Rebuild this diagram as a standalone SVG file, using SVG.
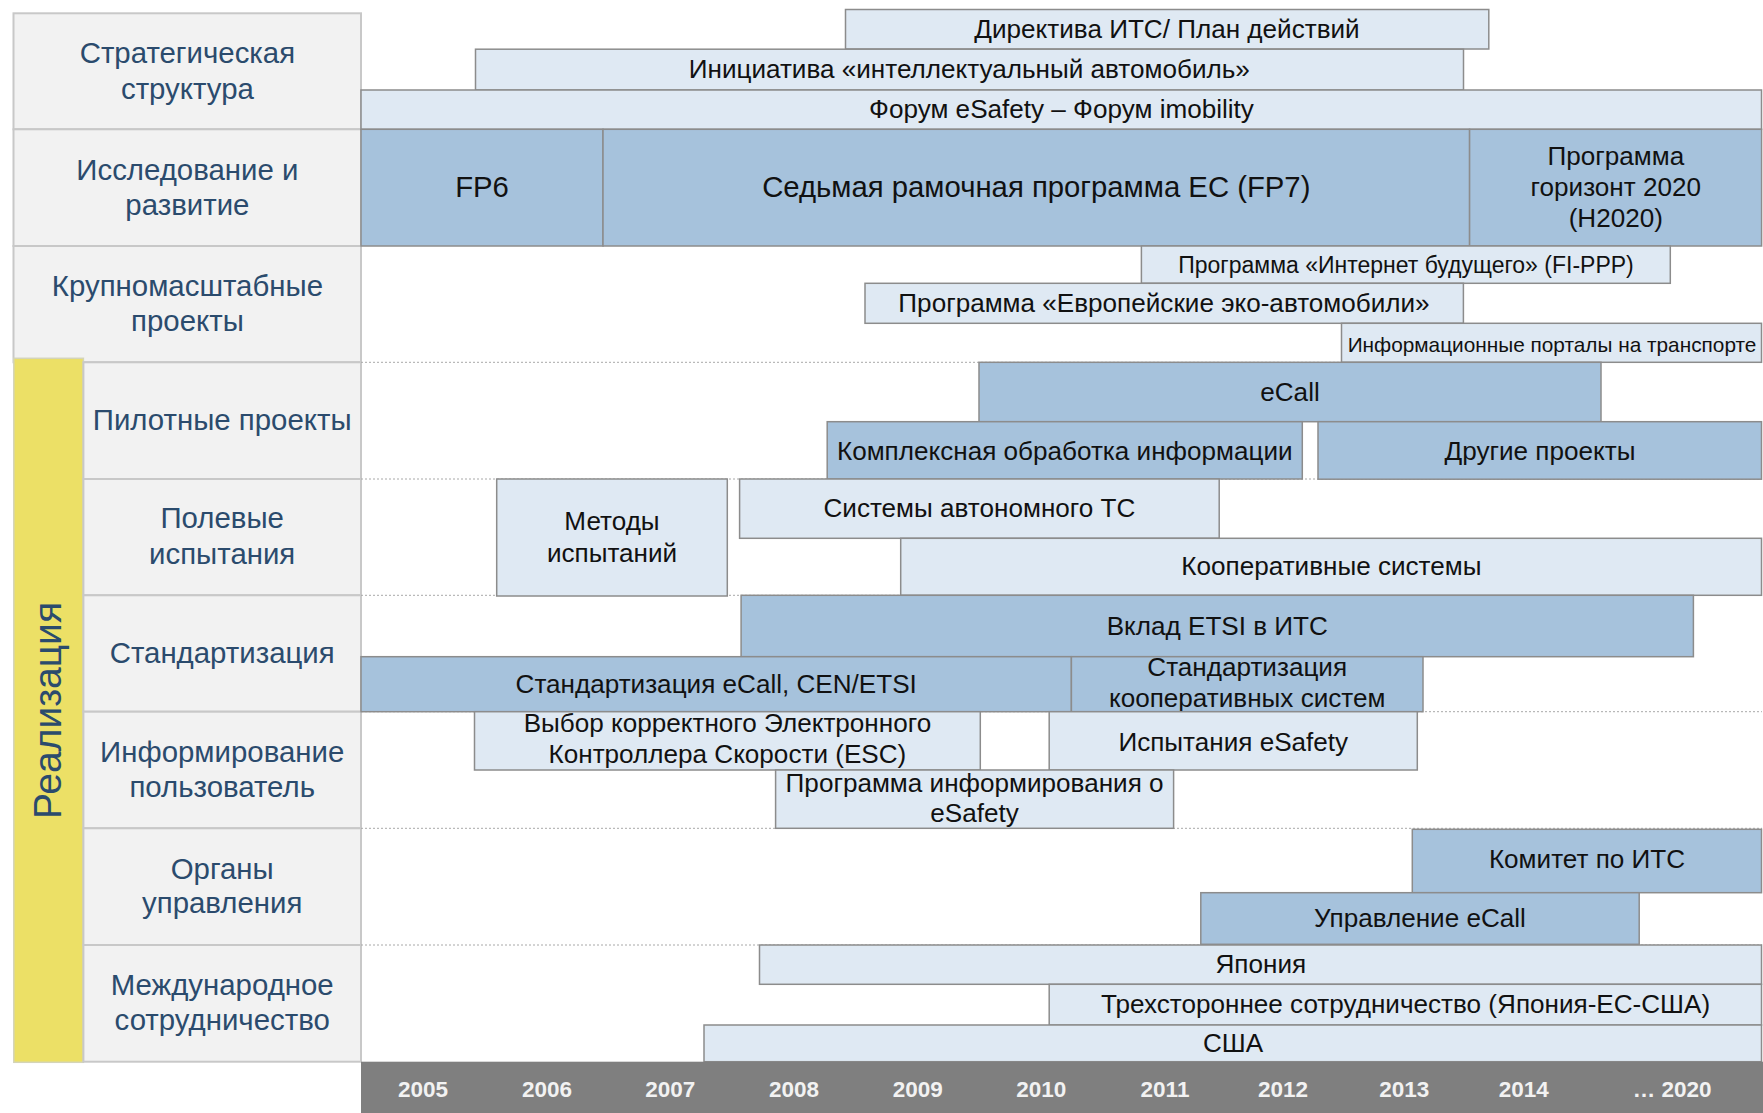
<svg xmlns="http://www.w3.org/2000/svg" width="1763" height="1113" viewBox="0 0 1763 1113">
<style>
.cell{fill:#f2f2f2;stroke:#c8c8c8;stroke-width:2}
.lbl{font-family:"Liberation Sans",Arial,sans-serif;font-size:29.4px;fill:#2b4b6d;text-anchor:middle}
.lt{fill:#dfe9f3;stroke:#8c8c8c;stroke-width:1.5}
.dk{fill:#a6c2dc;stroke:#8c8c8c;stroke-width:1.5}
.t{font-family:"Liberation Sans",Arial,sans-serif;font-size:26.1px;fill:#111;text-anchor:middle}
.big{font-size:29.3px}
.yr{font-family:"Liberation Sans",Arial,sans-serif;font-weight:bold;font-size:22.5px;fill:#f2f2f2;text-anchor:middle}
.grid{stroke:#a8a8a8;stroke-width:1;stroke-dasharray:2 2;fill:none}
</style>
<rect width="1763" height="1113" fill="#ffffff"/>

<g id="labels">
  <g id="row-strategy">
    <rect class="cell" x="13.5" y="13.3" width="347.5" height="116"/>
    <text class="lbl" x="187.4" y="63.3">Стратегическая</text>
    <text class="lbl" x="187.4" y="99">структура</text>
  </g>
  <g id="row-research">
    <rect class="cell" x="13.5" y="129.3" width="347.5" height="116.7"/>
    <text class="lbl" x="187.4" y="180">Исследование и</text>
    <text class="lbl" x="187.4" y="215">развитие</text>
  </g>
  <g id="row-large">
    <rect class="cell" x="13.5" y="246" width="347.5" height="116.3"/>
    <text class="lbl" x="187.4" y="296">Крупномасштабные</text>
    <text class="lbl" x="187.4" y="331">проекты</text>
  </g>
  <g id="realization">
    <rect x="13.8" y="358.3" width="69.6" height="704" fill="#ece066" stroke="#d4d4b8" stroke-width="1.5"/>
    <text class="lbl" transform="translate(61,710.5) rotate(-90)" x="0" y="0" style="font-size:39px">Реализация</text>
  </g>
  <g id="row-pilot">
    <rect class="cell" x="83.4" y="362.3" width="277.6" height="116.7"/>
    <text class="lbl" x="222.2" y="430">Пилотные проекты</text>
  </g>
  <g id="row-field">
    <rect class="cell" x="83.4" y="479" width="277.6" height="116.3"/>
    <text class="lbl" x="222.2" y="528.3">Полевые</text>
    <text class="lbl" x="222.2" y="564">испытания</text>
  </g>
  <g id="row-std">
    <rect class="cell" x="83.4" y="595.3" width="277.6" height="116.4"/>
    <text class="lbl" x="222.2" y="662.7">Стандартизация</text>
  </g>
  <g id="row-inform">
    <rect class="cell" x="83.4" y="711.7" width="277.6" height="116.6"/>
    <text class="lbl" x="222.2" y="761.7">Информирование</text>
    <text class="lbl" x="222.2" y="796.7">пользователь</text>
  </g>
  <g id="row-gov">
    <rect class="cell" x="83.4" y="828.3" width="277.6" height="116.7"/>
    <text class="lbl" x="222.2" y="879">Органы</text>
    <text class="lbl" x="222.2" y="913.3">управления</text>
  </g>
  <g id="row-intl">
    <rect class="cell" x="83.4" y="945" width="277.6" height="116.7"/>
    <text class="lbl" x="222.2" y="995">Международное</text>
    <text class="lbl" x="222.2" y="1030">сотрудничество</text>
  </g>
</g>

<g id="connectors">
  <path class="grid" d="M361 362.3H1762M361 479H1762M361 595.3H1762M361 711.7H1762M361 828.3H1762M361 945H1762"/>
</g>

<g id="bars">
  <g id="directive"><rect class="lt" x="845.5" y="9.5" width="643.3" height="39.5"/><text class="t" x="1167" y="37.7">Директива ИТС/ План действий</text></g>
  <g id="initiative"><rect class="lt" x="475.5" y="49.2" width="988" height="40.8"/><text class="t" x="969.3" y="78.3">Инициатива «интеллектуальный автомобиль»</text></g>
  <g id="forum"><rect class="lt" x="361" y="90" width="1400.5" height="39.3"/><text class="t" x="1061.5" y="118.3">Форум eSafety – Форум imobility</text></g>
  <g id="fp6"><rect class="dk" x="361" y="129.3" width="242" height="116.7"/><text class="t big" x="482" y="196.7">FP6</text></g>
  <g id="fp7"><rect class="dk" x="603" y="129.3" width="866.6" height="116.7"/><text class="t big" x="1036.3" y="196.7">Седьмая рамочная программа ЕС (FP7)</text></g>
  <g id="h2020"><rect class="dk" x="1469.6" y="129.3" width="292" height="116.7"/>
    <text class="t" x="1615.8" y="165">Программа</text>
    <text class="t" x="1615.8" y="196">горизонт 2020</text>
    <text class="t" x="1615.8" y="226.7">(H2020)</text></g>
  <g id="fippp"><rect class="lt" x="1141.4" y="246" width="528.9" height="37.3"/><text class="t" x="1406" y="272.7" style="font-size:23px">Программа «Интернет будущего» (FI-PPP)</text></g>
  <g id="ecocars"><rect class="lt" x="865" y="283.3" width="598.4" height="40"/><text class="t" x="1164" y="311.7">Программа «Европейские эко-автомобили»</text></g>
  <g id="portals"><rect class="lt" x="1341.5" y="323.3" width="420" height="39"/><text class="t" x="1552" y="351.7" style="font-size:20.8px">Информационные порталы на транспорте</text></g>
  <g id="ecall"><rect class="dk" x="979" y="362.3" width="622" height="59.4"/><text class="t" x="1290" y="401">eCall</text></g>
  <g id="complex"><rect class="dk" x="827.2" y="421.7" width="475.1" height="57.3"/><text class="t" x="1064.8" y="460">Комплексная обработка информации</text></g>
  <g id="other"><rect class="dk" x="1318" y="421.7" width="443.5" height="57.5"/><text class="t" x="1540" y="460">Другие проекты</text></g>
  <g id="methods"><rect class="lt" x="496.7" y="479" width="230.6" height="117"/>
    <text class="t" x="612" y="530">Методы</text>
    <text class="t" x="612" y="561.7">испытаний</text></g>
  <g id="autonomous"><rect class="lt" x="739.6" y="479" width="479.6" height="59.3"/><text class="t" x="979.4" y="517.3">Системы автономного ТС</text></g>
  <g id="coop"><rect class="lt" x="900.7" y="538.3" width="860.8" height="57"/><text class="t" x="1331.4" y="575">Кооперативные системы</text></g>
  <g id="etsi"><rect class="dk" x="741.1" y="595.3" width="952.3" height="61.4"/><text class="t" x="1217.3" y="634.5">Вклад ETSI в ИТС</text></g>
  <g id="std-ecall"><rect class="dk" x="361" y="656.7" width="710.4" height="55"/><text class="t" x="716.2" y="693.3">Стандартизация eCall, CEN/ETSI</text></g>
  <g id="std-coop"><rect class="dk" x="1071.4" y="656.7" width="351.6" height="55"/>
    <text class="t" x="1247.2" y="676">Стандартизация</text>
    <text class="t" x="1247.2" y="707.3">кооперативных систем</text></g>
  <g id="esc"><rect class="lt" x="474.5" y="711.7" width="505.8" height="58.3"/>
    <text class="t" x="727.4" y="731.7">Выбор корректного Электронного</text>
    <text class="t" x="727.4" y="762.5">Контроллера Скорости (ESC)</text></g>
  <g id="esafety-tests"><rect class="lt" x="1049.2" y="711.7" width="368.1" height="58.3"/><text class="t" x="1233.3" y="750.5">Испытания eSafety</text></g>
  <g id="esafety-info"><rect class="lt" x="775.6" y="770" width="398" height="58.3"/>
    <text class="t" x="974.6" y="792.3">Программа информирования о</text>
    <text class="t" x="974.6" y="821.7">eSafety</text></g>
  <g id="its-committee"><rect class="dk" x="1412.3" y="829.3" width="349.2" height="63.4"/><text class="t" x="1587" y="868.3">Комитет по ИТС</text></g>
  <g id="ecall-gov"><rect class="dk" x="1200.8" y="892.7" width="438.4" height="51.6"/><text class="t" x="1420" y="926.7">Управление eCall</text></g>
  <g id="japan"><rect class="lt" x="759.5" y="945" width="1002" height="39.3"/><text class="t" x="1260.8" y="973.3">Япония</text></g>
  <g id="trilateral"><rect class="lt" x="1049.2" y="984.3" width="712.3" height="40.7"/><text class="t" x="1405.6" y="1013.3">Трехстороннее сотрудничество (Япония-ЕС-США)</text></g>
  <g id="usa"><rect class="lt" x="704" y="1025" width="1057.5" height="36.7"/><text class="t" x="1233" y="1051.7">США</text></g>
</g>

<g id="years">
  <rect x="361" y="1061.7" width="1402" height="51.3" fill="#7f7f7f"/>
  <text class="yr" x="423" y="1096.7">2005</text>
  <text class="yr" x="547" y="1096.7">2006</text>
  <text class="yr" x="670.2" y="1096.7">2007</text>
  <text class="yr" x="794" y="1096.7">2008</text>
  <text class="yr" x="917.8" y="1096.7">2009</text>
  <text class="yr" x="1041.2" y="1096.7">2010</text>
  <text class="yr" x="1165" y="1096.7">2011</text>
  <text class="yr" x="1283" y="1096.7">2012</text>
  <text class="yr" x="1404.3" y="1096.7">2013</text>
  <text class="yr" x="1523.7" y="1096.7">2014</text>
  <text class="yr" x="1672.2" y="1096.7">… 2020</text>
</g>
</svg>
